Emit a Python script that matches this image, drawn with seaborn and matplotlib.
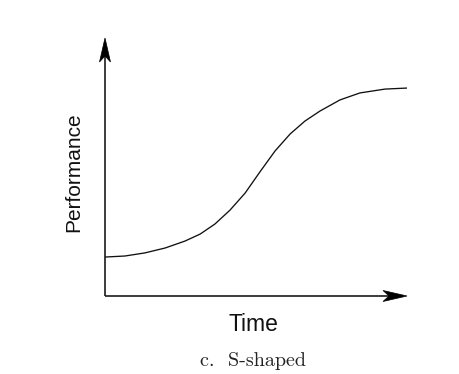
import matplotlib
matplotlib.use("Agg")
import matplotlib.pyplot as plt
from matplotlib.patches import Polygon
import seaborn as sns
import pandas as pd

# Data (time vs performance, arbitrary units 0-10)
time = [0.00, 0.66, 1.32, 1.99, 2.65, 3.15, 3.64, 4.14, 4.64, 5.13, 5.63, 6.13,
        6.62, 7.12, 7.78, 8.44, 9.27, 10.0]
performance = [1.51, 1.55, 1.67, 1.86, 2.13, 2.40, 2.79, 3.33, 3.99, 4.81, 5.62, 6.28,
               6.78, 7.17, 7.60, 7.87, 8.02, 8.06]
x_label = "Time"
y_label = "Performance"
caption = "c.  S-shaped"

sns.set_style("white")
plt.rcParams['font.family'] = ['Liberation Sans', 'DejaVu Sans']

df = pd.DataFrame({"Time": time, "Performance": performance})

fig = plt.figure(figsize=(4.59, 3.74), dpi=100)
W, H = 459, 374
ax = fig.add_axes([105 / W, (H - 296) / H, 302 / W, 258 / H])

sns.lineplot(data=df, x="Time", y="Performance", ax=ax, color="#111111", linewidth=0.95)

ax.set_xlim(0, 10)
ax.set_ylim(0, 10)
ax.set_xticks([])
ax.set_yticks([])
ax.set_xlabel("")
ax.set_ylabel("")
for s in ax.spines.values():
    s.set_visible(False)

# Axis lines (stop short of the tips; heads drawn as stealth polygons)
ax.plot([0, 0.96], [0, 0], transform=ax.transAxes, color="#111111", lw=1.15,
        clip_on=False, solid_capstyle="butt")
ax.plot([0, 0], [0, 0.96], transform=ax.transAxes, color="#111111", lw=1.15,
        clip_on=False, solid_capstyle="butt")

fig.canvas.draw()
tx, ty = ax.transAxes.transform((1.0, 0.0))
ux, uy = ax.transAxes.transform((0.0, 1.0))
L, Wd, N = 24, 5.5, 18  # head length, half width, notch depth (pixels)
head_x = Polygon([(tx, ty), (tx - L, ty + Wd), (tx - N, ty), (tx - L, ty - Wd)],
                 closed=True, transform=None, facecolor="black", edgecolor="black",
                 lw=0.5, clip_on=False)
head_y = Polygon([(ux, uy), (ux - Wd, uy - L), (ux, uy - N), (ux + Wd, uy - L)],
                 closed=True, transform=None, facecolor="black", edgecolor="black",
                 lw=0.5, clip_on=False)
fig.add_artist(head_x)
fig.add_artist(head_y)

ax.text(-0.103, 0.48, y_label, transform=ax.transAxes, rotation=90,
        ha="center", va="center", fontsize=15, color="#111111")
ax.text(0.493, -0.112, x_label, transform=ax.transAxes,
        ha="center", va="center", fontsize=16.5, color="#111111")
fig.text(253 / W, (H - 361) / H, caption, ha="center", va="center",
         fontsize=14.5, family=["cmr10", "DejaVu Serif"], color="#222222")

fig.savefig("out.png", dpi=100)
